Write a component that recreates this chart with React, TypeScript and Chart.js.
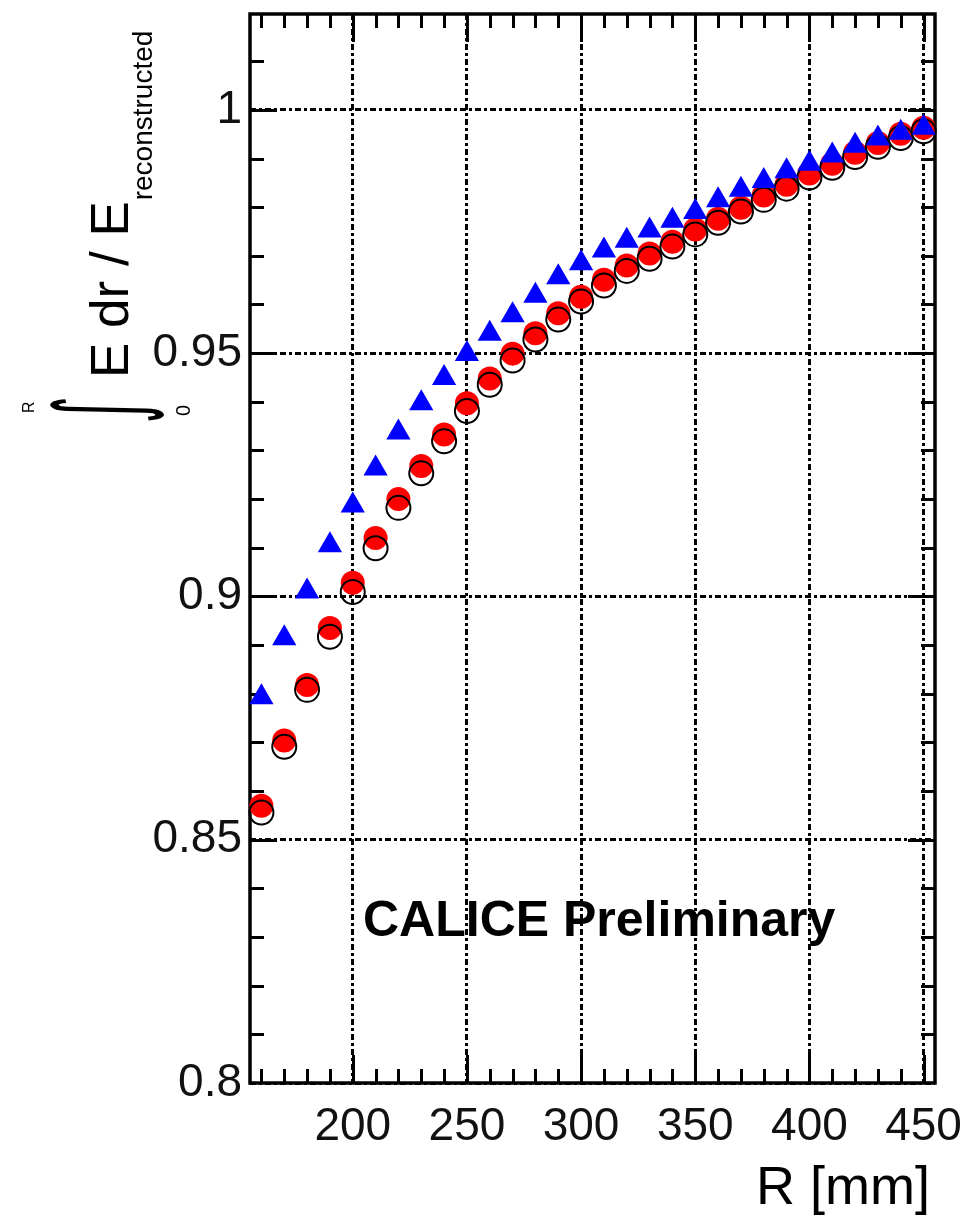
import React, { useEffect, useRef } from 'react';
import { Chart, registerables } from 'chart.js';

Chart.register(...registerables);

// Integration radius (bin centres, mm)
const R_MM = [
  160, 170, 180, 190, 200, 210, 220, 230, 240, 250,
  260, 270, 280, 290, 300, 310, 320, 330, 340, 350,
  360, 370, 380, 390, 400, 410, 420, 430, 440, 450,
];

// Containment fraction, blue triangles
const BLUE_TRIANGLES = [
  0.8793, 0.8914, 0.9010, 0.9105, 0.9187, 0.9263, 0.9337, 0.9397, 0.9449, 0.9498,
  0.9540, 0.9578, 0.9618, 0.9656, 0.9685, 0.9711, 0.9731, 0.9752, 0.9772, 0.9790,
  0.9814, 0.9836, 0.9854, 0.9874, 0.9889, 0.9906, 0.9926, 0.9941, 0.9953, 0.9963,
];

// Containment fraction, red filled circles
const RED_FILLED = [
  0.8570, 0.8704, 0.8818, 0.8935, 0.9028, 0.9120, 0.9200, 0.9268, 0.9333, 0.9397,
  0.9448, 0.9499, 0.9541, 0.9582, 0.9616, 0.9651, 0.9680, 0.9705, 0.9729, 0.9754,
  0.9776, 0.9799, 0.9824, 0.9846, 0.9869, 0.9889, 0.9912, 0.9932, 0.9951, 0.9963,
];

// Containment fraction, black open circles
const BLACK_OPEN = [
  0.8556, 0.8691, 0.8808, 0.8917, 0.9009, 0.9099, 0.9182, 0.9253, 0.9319, 0.9381,
  0.9435, 0.9485, 0.9528, 0.9569, 0.9606, 0.9639, 0.9669, 0.9694, 0.9719, 0.9744,
  0.9768, 0.9791, 0.9815, 0.9838, 0.9861, 0.9881, 0.9903, 0.9924, 0.9942, 0.9956,
];

const X_TICKS = [200, 250, 300, 350, 400, 450];
const Y_TICKS = [0.8, 0.85, 0.9, 0.95, 1];
const Y_TICK_LABELS = ['0.8', '0.85', '0.9', '0.95', '1'];
const X_MIN = 155;
const X_MAX = 455;
const Y_MIN = 0.8;
const Y_MAX = 1.0197;

const SANS = '"Liberation Sans", Arial, Helvetica, sans-serif';

const toPoints = (ys: number[]) => R_MM.map((r, i) => ({ x: r, y: ys[i] }));

// Frame and inward-pointing ticks on all four sides
const frameTicks = {
  id: 'frameTicks',
  beforeDatasetsDraw(chart: any) {
    const { ctx, chartArea: a, scales } = chart;
    const x = scales.x;
    const y = scales.y;
    ctx.save();
    ctx.setLineDash([]);
    ctx.strokeStyle = '#000';
    ctx.lineWidth = 3;
    ctx.beginPath();
    for (let v = 160; v <= 450; v += 10) {
      const px = Math.round(x.getPixelForValue(v)) + 0.5;
      const len = v % 50 === 0 ? 28 : 14;
      ctx.moveTo(px, a.bottom);
      ctx.lineTo(px, a.bottom - len);
      ctx.moveTo(px, a.top);
      ctx.lineTo(px, a.top + len);
    }
    for (let i = 81; i <= 101; i++) {
      const py = Math.round(y.getPixelForValue(i / 100)) + 0.5;
      const len = i % 5 === 0 ? 27 : 14;
      ctx.moveTo(a.left, py);
      ctx.lineTo(a.left + len, py);
      ctx.moveTo(a.right, py);
      ctx.lineTo(a.right - len, py);
    }
    ctx.stroke();
    ctx.lineWidth = 3.5;
    ctx.strokeRect(a.left, a.top, a.right - a.left, a.bottom - a.top);
    ctx.restore();
  },
};

// Axis titles and the collaboration label
const titles = {
  id: 'titles',
  afterDraw(chart: any) {
    const { ctx } = chart;
    ctx.save();
    ctx.fillStyle = '#000';
    ctx.textBaseline = 'alphabetic';

    // x-axis title
    ctx.font = `54px ${SANS}`;
    ctx.textAlign = 'right';
    ctx.fillText('R [mm]', 930, 1204);

    // collaboration label
    ctx.font = `bold 50px ${SANS}`;
    ctx.textAlign = 'left';
    ctx.fillText('CALICE Preliminary', 363, 936);

    // y-axis title, rotated to read bottom-to-top
    ctx.save();
    ctx.translate(128, 378);
    ctx.rotate(-Math.PI / 2);
    ctx.font = `53px ${SANS}`;
    ctx.textAlign = 'left';
    const main = 'E dr / E';
    ctx.fillText(main, 0, 0);
    const w = ctx.measureText(main).width;
    ctx.font = `28px ${SANS}`;
    ctx.fillText('reconstructed', w + 1, 24);
    ctx.restore();

    // integral sign with its limits
    ctx.save();
    ctx.font = `100px "DejaVu Sans", sans-serif`;
    const m = ctx.measureText('\u222B');
    const asc = m.actualBoundingBoxAscent;
    const desc = m.actualBoundingBoxDescent;
    const left = m.actualBoundingBoxLeft;
    const right = m.actualBoundingBoxRight;
    const sy = 115 / (asc + desc);
    const sx = 22 / (left + right);
    const ox = 50 + sy * asc;
    const oy = 399 + sx * right;
    ctx.translate(ox, oy);
    ctx.rotate(-Math.PI / 2);
    ctx.scale(sx, sy);
    ctx.textAlign = 'left';
    ctx.fillText('\u222B', 0, 0);
    ctx.restore();

    ctx.save();
    ctx.translate(34, 413);
    ctx.rotate(-Math.PI / 2);
    ctx.font = `16px ${SANS}`;
    ctx.fillText('R', 0, 0);
    ctx.restore();

    ctx.save();
    ctx.translate(190, 416);
    ctx.rotate(-Math.PI / 2);
    ctx.font = `20px ${SANS}`;
    ctx.fillText('0', 0, 0);
    ctx.restore();

    ctx.restore();
  },
};

export default function App() {
  const canvasRef = useRef<HTMLCanvasElement | null>(null);

  useEffect(() => {
    const canvas = canvasRef.current;
    if (!canvas) return;

    const gridCommon = {
      color: '#000',
      lineWidth: 3,
      drawTicks: false,
    };
    const gridDash = { display: false, dash: [6, 3, 3, 3] };

    const chart = new Chart(canvas, {
      type: 'scatter',
      data: {
        datasets: [
          {
            label: 'blue',
            data: toPoints(BLUE_TRIANGLES),
            pointStyle: 'triangle',
            pointRadius: 14,
            backgroundColor: 'rgb(0,0,255)',
            borderColor: 'rgb(0,0,255)',
            borderWidth: 0,
            clip: false,
          },
          {
            label: 'black',
            data: toPoints(BLACK_OPEN),
            pointStyle: 'circle',
            pointRadius: 12,
            backgroundColor: 'rgba(0,0,0,0)',
            borderColor: '#000',
            borderWidth: 2,
            clip: false,
          },
          {
            label: 'red',
            data: toPoints(RED_FILLED),
            pointStyle: 'circle',
            pointRadius: 12,
            backgroundColor: 'rgb(255,0,0)',
            borderColor: 'rgb(255,0,0)',
            borderWidth: 0,
            clip: false,
          },
        ],
      },
      options: {
        responsive: false,
        animation: false,
        events: [],
        layout: { padding: { top: 12, right: 33, left: 0, bottom: 0 } },
        plugins: {
          legend: { display: false },
          tooltip: { enabled: false },
          title: { display: false },
        },
        scales: {
          x: {
            type: 'linear',
            min: X_MIN,
            max: X_MAX,
            grid: gridCommon,
            border: gridDash,
            afterBuildTicks: (s: any) => {
              s.ticks = X_TICKS.map((v) => ({ value: v }));
            },
            afterFit: (s: any) => {
              s.height = 134;
              s.paddingLeft = 0;
              s.paddingRight = 0;
            },
            ticks: {
              color: '#111',
              padding: 17,
              maxRotation: 0,
              autoSkip: false,
              font: { family: SANS, size: 46 },
              callback: (v: any) => String(v),
            },
          },
          y: {
            type: 'linear',
            min: Y_MIN,
            max: Y_MAX,
            grid: gridCommon,
            border: gridDash,
            afterBuildTicks: (s: any) => {
              s.ticks = Y_TICKS.map((v) => ({ value: v }));
            },
            afterFit: (s: any) => {
              s.width = 250;
              s.paddingTop = 0;
              s.paddingBottom = 0;
            },
            ticks: {
              color: '#111',
              padding: 8,
              autoSkip: false,
              font: { family: SANS, size: 46 },
              callback: (_v: any, i: number) => Y_TICK_LABELS[i],
            },
          },
        },
      },
      plugins: [frameTicks, titles],
    } as any);

    return () => chart.destroy();
  }, []);

  return (
    <div style={{ position: 'absolute', left: 0, top: 0, width: 968, height: 1217, background: '#fff' }}>
      <canvas ref={canvasRef} width={968} height={1217} style={{ display: 'block' }} />
    </div>
  );
}
